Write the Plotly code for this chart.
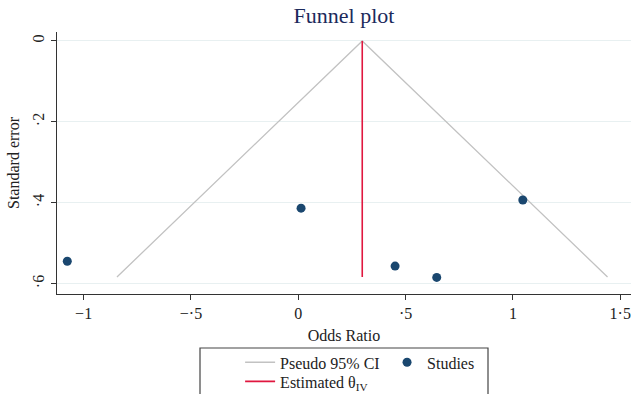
import plotly.graph_objects as go

# Study estimates (odds-ratio scale as labelled) and their standard errors
study_or = [-1.076, 0.013, 0.451, 0.645, 1.046]
study_se = [0.544, 0.413, 0.556, 0.584, 0.393]

# Pooled inverse-variance estimate and the largest standard error
theta_iv = 0.298
se_max = 0.583
z95 = 1.96

x_tickvals = [-1, -0.5, 0, 0.5, 1, 1.5]
x_ticktext = ["\u22121", "\u2212\u00b75", "0", "\u00b75", "1", "1\u00b75"]
y_tickvals = [0, 0.2, 0.4, 0.6]
y_ticktext = ["0", "\u00b72", "\u00b74", "\u00b76"]

serif = "Liberation Serif, Times New Roman, serif"
navy = "#1a476f"
ink = "#222222"

fig = go.Figure()

# Pseudo 95% confidence limits around the pooled estimate
fig.add_trace(go.Scatter(
    x=[theta_iv - z95 * se_max, theta_iv, theta_iv + z95 * se_max],
    y=[se_max, 0, se_max],
    mode="lines",
    line=dict(color="#c2c2c2", width=1.3),
    name="Pseudo 95% CI",
    legend="legend",
))

fig.add_trace(go.Scatter(
    x=study_or, y=study_se,
    mode="markers",
    marker=dict(color=navy, size=9),
    name="Studies",
    legend="legend2",
))

fig.add_trace(go.Scatter(
    x=[theta_iv, theta_iv], y=[0, se_max],
    mode="lines",
    line=dict(color="#e0173f", width=1.6),
    name="Estimated \u03b8<sub>IV</sub>",
    legend="legend3",
))

legend_font = dict(family=serif, size=16, color=ink)
legend_common = dict(orientation="v", xanchor="left", yanchor="top",
                     borderwidth=0, bgcolor="rgba(0,0,0,0)", font=legend_font)

fig.update_layout(
    width=632, height=394,
    margin=dict(l=57, r=1, t=32, b=100, autoexpand=False),
    paper_bgcolor="white",
    plot_bgcolor="white",
    font=dict(family=serif, color=ink, size=16),
    title=dict(
        text="Funnel plot",
        font=dict(family=serif, size=22, color="#1c2a5c"),
        x=0.5, xref="paper", xanchor="center",
        y=1 - 15 / 394, yanchor="middle",
    ),
    showlegend=True,
    legend=dict(x=0.319, y=-0.196, **legend_common),
    legend2=dict(x=0.575, y=-0.196, **legend_common),
    legend3=dict(x=0.319, y=-0.269, **legend_common),
    shapes=[
        # frame enclosing the legend blocks
        dict(type="rect", xref="paper", yref="paper",
             x0=(200 - 57) / 574, x1=(488 - 57) / 574,
             y0=-0.45, y1=(294 - 348) / 262,
             line=dict(color="#444444", width=1.2),
             fillcolor="rgba(0,0,0,0)", layer="below"),
    ],
)

fig.update_xaxes(
    range=[-1.124, 1.550],
    tickmode="array", tickvals=x_tickvals, ticktext=x_ticktext,
    ticks="outside", ticklen=5, tickcolor="#333333",
    tickfont=dict(family=serif, size=16, color=ink),
    showline=True, linecolor="#333333", linewidth=1.3,
    showgrid=False, zeroline=False,
    title=dict(text="Odds Ratio", font=dict(family=serif, size=16, color=ink), standoff=8),
)

fig.update_yaxes(
    range=[0.625, -0.022],
    tickmode="array", tickvals=y_tickvals, ticktext=y_ticktext,
    tickangle=-90,
    ticks="outside", ticklen=5, tickcolor="#333333",
    tickfont=dict(family=serif, size=16, color=ink),
    showline=True, linecolor="#333333", linewidth=1.3,
    showgrid=True, gridcolor="#e8f0f1", gridwidth=1.2,
    zeroline=False,
    title=dict(text="Standard error", font=dict(family=serif, size=16, color=ink), standoff=6),
)

fig.write_html("out.html")
